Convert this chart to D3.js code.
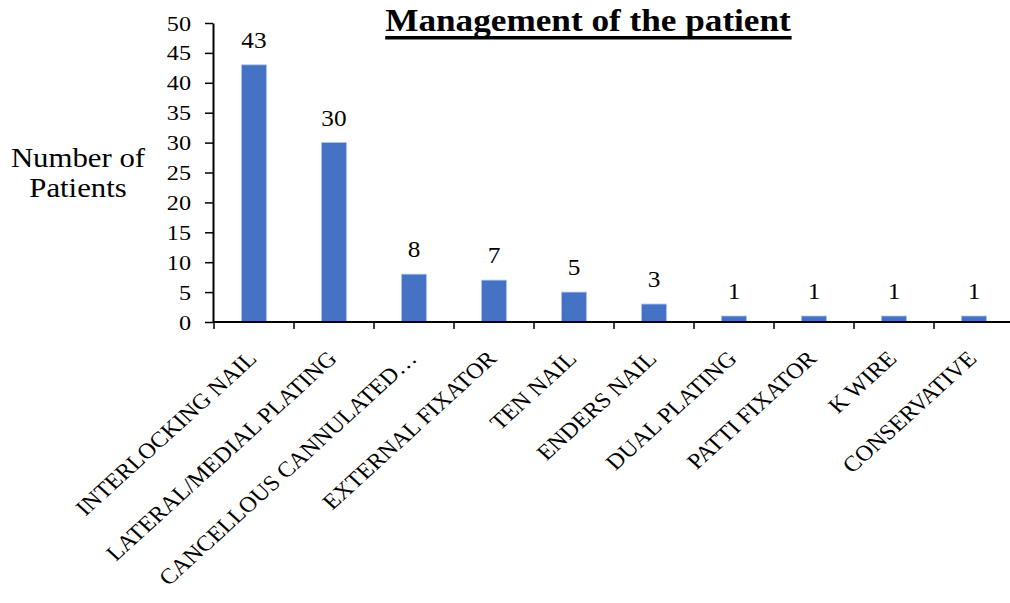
<!DOCTYPE html>
<html><head><meta charset="utf-8">
<script src="https://cdn.jsdelivr.net/npm/d3@7"></script>
<style>body{margin:0;background:#fff}svg{display:block}</style>
</head><body>
<svg id="c" width="1010" height="603"></svg>
<script>
const categories = ["INTERLOCKING NAIL","LATERAL/MEDIAL PLATING","CANCELLOUS CANNULATED…","EXTERNAL FIXATOR","TEN NAIL","ENDERS NAIL","DUAL PLATING","PATTI FIXATOR","K WIRE","CONSERVATIVE"];
const values = [43,30,8,7,5,3,1,1,1,1];
const yTicks = [0,5,10,15,20,25,30,35,40,45,50];

const svg = d3.select("#c");
const font = "'Liberation Serif','Times New Roman',serif";
const sx = 1.1;
const x = d3.scaleBand().domain(categories).range([214,1014]).paddingInner(0.69).paddingOuter(0.345);
const y = d3.scaleLinear().domain([0,50]).range([322,23]);

// bars
svg.selectAll("rect.bar").data(values).join("rect")
  .attr("x",(d,i)=>x(categories[i])).attr("width",x.bandwidth())
  .attr("y",d=>y(d)).attr("height",d=>y(0)-y(d))
  .attr("fill","#4472C4").attr("stroke","#a9c0e8").attr("stroke-width",0.8);

// value labels
svg.selectAll("text.val").data(values).join("text")
  .attr("transform",(d,i)=>`translate(${x(categories[i])+x.bandwidth()/2},${y(d)-17}) scale(${sx},1)`)
  .attr("text-anchor","middle").attr("font-family",font).attr("font-size",23).text(d=>d);

// y axis
const ya = svg.append("g").attr("transform","translate(213,0)")
  .call(d3.axisLeft(y).tickValues(yTicks).tickSize(8).tickSizeOuter(0));
ya.select(".domain").attr("stroke","#000").attr("stroke-width",2);
ya.selectAll(".tick line").attr("stroke","#000").attr("stroke-width",1.5);
ya.selectAll(".tick text").attr("font-family",font).attr("font-size",22).attr("fill","#000")
  .attr("x",0).attr("transform",`translate(-22,0) scale(${sx},1)`);

// x axis
const xTickScale = d3.scaleLinear().domain([0,categories.length]).range([214,1014]);
svg.append("line").attr("x1",213).attr("x2",1010).attr("y1",y(0)).attr("y2",y(0)).attr("stroke","#000").attr("stroke-width",2);
svg.selectAll("line.xt").data(d3.range(categories.length+1)).join("line")
  .attr("x1",d=>xTickScale(d)).attr("x2",d=>xTickScale(d)).attr("y1",y(0)).attr("y2",y(0)+7)
  .attr("stroke","#000").attr("stroke-width",1.5);

// x labels
svg.selectAll("text.xl").data(categories).join("text")
  .attr("transform",d=>`translate(${x(d)+x.bandwidth()/2+4},${y(0)+38}) scale(${sx},1) rotate(-45)`)
  .attr("text-anchor","end").attr("font-family",font).attr("font-size",22).attr("fill","#000").text(d=>d);

// y title
const yt = svg.append("text").attr("transform",`translate(78,0) scale(${sx},1)`)
  .attr("text-anchor","middle").attr("font-family",font).attr("font-size",28).attr("fill","#000");
yt.append("tspan").attr("x",0).attr("y",167).text("Number of");
yt.append("tspan").attr("x",0).attr("y",197).text("Patients");

// title
const tg = svg.append("g").attr("transform",`translate(588,0) scale(${sx},1)`);
const tt = tg.append("text").attr("x",0).attr("y",31).attr("text-anchor","middle")
  .attr("font-family",font).attr("font-size",32).attr("font-weight","bold")
  .attr("fill","#000").text("Management of the patient");
const bb = tt.node().getBBox();
tg.append("rect").attr("x",bb.x).attr("width",bb.width).attr("y",36).attr("height",3.5).attr("fill","#000");
</script>
</body></html>
